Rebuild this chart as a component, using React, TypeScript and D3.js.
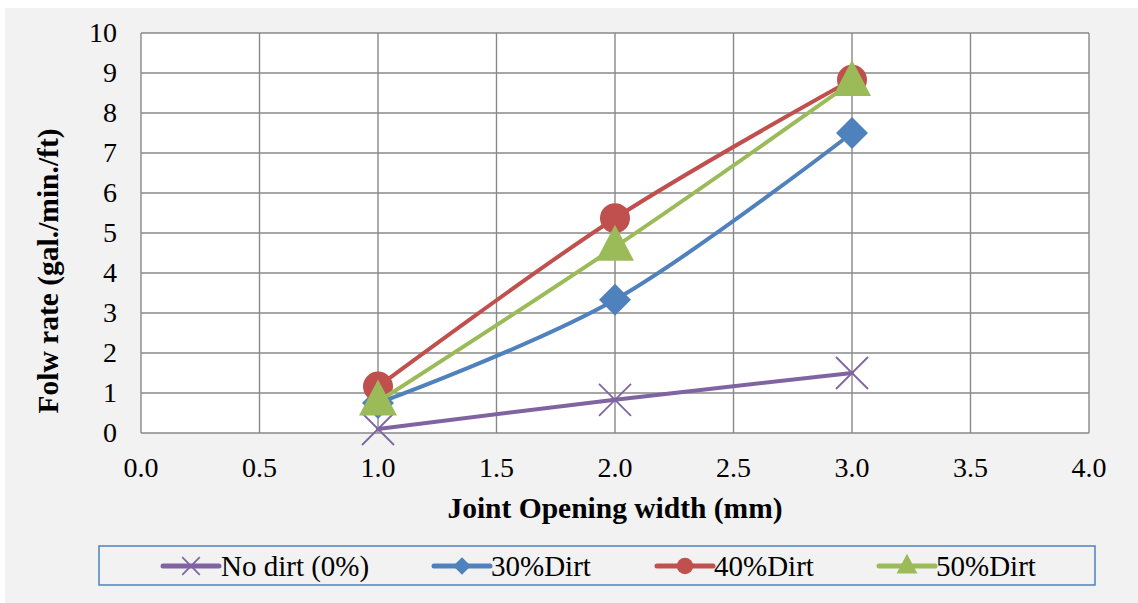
import React from "react";
import * as d3 from "d3";

const xValues = [1.0, 2.0, 3.0];
const noDirt = [0.1, 0.83, 1.5];
const dirt30 = [0.75, 3.33, 7.5];
const dirt40 = [1.16, 5.37, 8.83];
const dirt50 = [0.78, 4.65, 8.77];
const xTicks = [0, 0.5, 1, 1.5, 2, 2.5, 3, 3.5, 4];
const yTicks = [0, 1, 2, 3, 4, 5, 6, 7, 8, 9, 10];
const seriesNames = ["No dirt (0%)", "30%Dirt", "40%Dirt", "50%Dirt"];
const seriesColors = ["#8064a2", "#4f81bd", "#c0504d", "#9bbb59"];
const seriesMarkers = ["x", "diamond", "circle", "triangle"];

const W = 1138, H = 603;
const plot = { left: 141, right: 1089, top: 33, bottom: 433 };
const FONT = "Liberation Serif";

function Marker({ type, x, y, color, scale = 1 }: any) {
  if (type === "x") {
    const s = 16 * scale;
    return (
      <g stroke={color} strokeWidth={1.8}>
        <line x1={x - s} y1={y - s} x2={x + s} y2={y + s} />
        <line x1={x - s} y1={y + s} x2={x + s} y2={y - s} />
      </g>
    );
  }
  if (type === "diamond") {
    const s = 16 * scale;
    return <path d={`M${x},${y - s}L${x + s},${y}L${x},${y + s}L${x - s},${y}Z`} fill={color} />;
  }
  if (type === "circle") {
    return <circle cx={x} cy={y} r={15 * scale} fill={color} />;
  }
  const w = 19 * scale, h = 36 * scale;
  return <path d={`M${x},${y - h * 0.62}L${x + w},${y + h * 0.38}L${x - w},${y + h * 0.38}Z`} fill={color} />;
}

export default function App() {
  const xs = d3.scaleLinear().domain([0, 4]).range([plot.left, plot.right]);
  const ys = d3.scaleLinear().domain([0, 10]).range([plot.bottom, plot.top]);
  const data = [noDirt, dirt30, dirt40, dirt50];
  const line = d3
    .line<number>()
    .x((_, i) => xs(xValues[i]))
    .y((d) => ys(d))
    .curve(d3.curveCatmullRom.alpha(0));

  const legendItems = [
    { lx: 163, tx: 221 },
    { lx: 434, tx: 491 },
    { lx: 657, tx: 714 },
    { lx: 879, tx: 936 },
  ];
  const ts = { fontFamily: FONT };

  return (
    <svg
      width={W}
      height={H}
      style={{ position: "absolute", left: 0, top: 0, fontFamily: FONT }}
    >
      <rect x={0} y={0} width={W} height={H} fill="#ffffff" />
      <rect x={5} y={8} width={W - 5} height={H - 8} fill="#f2f2f2" />
      <rect
        x={plot.left}
        y={plot.top}
        width={plot.right - plot.left}
        height={plot.bottom - plot.top}
        fill="#ffffff"
      />
      {yTicks.map((t) => (
        <line
          key={"gy" + t}
          x1={plot.left}
          x2={plot.right}
          y1={ys(t)}
          y2={ys(t)}
          stroke="#898989"
          strokeWidth={1.4}
        />
      ))}
      {xTicks.map((t) => (
        <line
          key={"gx" + t}
          x1={xs(t)}
          x2={xs(t)}
          y1={plot.top}
          y2={plot.bottom}
          stroke="#898989"
          strokeWidth={1.4}
        />
      ))}
      {yTicks.map((t) => (
        <text
          key={"ty" + t}
          x={117}
          y={ys(t)}
          dy="0.33em"
          textAnchor="end"
          fontSize={28}
          fill="#000"
          style={ts}
        >
          {t}
        </text>
      ))}
      {xTicks.map((t) => (
        <text
          key={"tx" + t}
          x={xs(t)}
          y={477}
          textAnchor="middle"
          fontSize={28}
          fill="#000"
          style={ts}
        >
          {t.toFixed(1)}
        </text>
      ))}
      <text x={615} y={518} textAnchor="middle" fontSize={29.5} fontWeight="bold" style={ts}>
        Joint Opening width (mm)
      </text>
      <text
        transform={`translate(58,271) rotate(-90)`}
        textAnchor="middle"
        fontSize={29.5}
        fontWeight="bold"
        style={ts}
      >
        Folw rate (gal./min./ft)
      </text>
      {data.map((vals, si) => (
        <g key={"s" + si}>
          <path d={line(vals) || ""} fill="none" stroke={seriesColors[si]} strokeWidth={4} strokeLinecap="round" />
          {vals.map((v, i) => (
            <Marker key={i} type={seriesMarkers[si]} x={xs(xValues[i])} y={ys(v)} color={seriesColors[si]} />
          ))}
        </g>
      ))}
      <rect x={99} y={546} width={996} height={39} fill="none" stroke="#4f81bd" strokeWidth={1.5} />
      {legendItems.map((it, i) => (
        <g key={"l" + i}>
          <line
            x1={it.lx}
            x2={it.lx + 56}
            y1={566}
            y2={566}
            stroke={seriesColors[i]}
            strokeWidth={5}
            strokeLinecap="round"
          />
          <Marker type={seriesMarkers[i]} x={it.lx + 28} y={566} color={seriesColors[i]} scale={0.55} />
          <text x={it.tx} y={576} fontSize={29} fill="#000" style={ts}>
            {seriesNames[i]}
          </text>
        </g>
      ))}
    </svg>
  );
}
